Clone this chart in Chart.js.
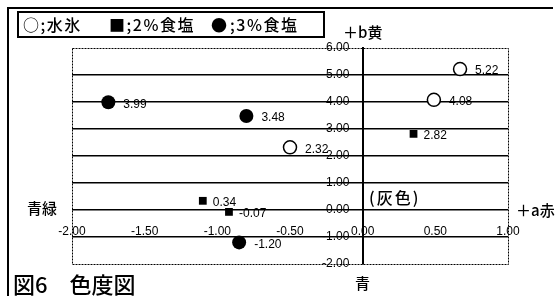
<!DOCTYPE html>
<html>
<head>
<meta charset="utf-8">
<script src="https://cdn.jsdelivr.net/npm/chart.js@4"></script>
<style>
  body { margin: 0; background: #fff; }
  #wrap { position: relative; width: 556px; height: 296px; font-family: "Noto Sans CJK JP", sans-serif; color: #000; }
  #wrap canvas { position: absolute; left: 0; top: 0; }
  .frameTop { position: absolute; left: 7px; top: 7px; width: 546px; height: 0; border-top: 2px solid #000; }
  .frameLeft { position: absolute; left: 7px; top: 7px; width: 0; height: 289px; border-left: 2px solid #000; }
  .legendBox { position: absolute; left: 17px; top: 11px; width: 304px; height: 23px; border: 2px solid #000; font-size: 16px; font-weight: 500; line-height: 23px; white-space: nowrap; letter-spacing: 1.5px; }
  .lbl { position: absolute; white-space: nowrap; line-height: 1; font-weight: 500; }
</style>
</head>
<body>
<div id="wrap">
  <canvas id="chromaChart" width="556" height="296"></canvas>
  <div class="frameTop"></div>
  <div class="frameLeft"></div>
  <div class="legendBox">
    <span style="position:absolute;left:4px">○;水氷</span>
    <span style="position:absolute;left:90px">■;2%食塩</span>
    <span style="position:absolute;left:192px">●</span>
    <span style="position:absolute;left:211px">;3%食塩</span>
  </div>
  <div class="lbl" style="left:343px;top:24px;font-size:15px">＋b黄</div>
  <div class="lbl" style="left:27px;top:200px;font-size:15px">青緑</div>
  <div class="lbl" style="left:516px;top:202px;font-size:15px">＋a赤</div>
  <div class="lbl" style="left:355px;top:275px;font-size:15px">青</div>
  <div class="lbl" style="left:369px;top:189px;font-size:16px;letter-spacing:2px">(灰色)</div>
  <div class="lbl" style="left:13px;top:272px;font-size:22px">図6　色度図</div>
</div>
<script>
// a*, b* values
const iceX = [0.67, 0.49, -0.50];
const iceY = [5.22, 4.08, 2.32];
const salt2X = [0.35, -1.10, -0.92];
const salt2Y = [2.82, 0.34, -0.07];
const salt3X = [-1.75, -0.80, -0.85];
const salt3Y = [3.99, 3.48, -1.20];

const xTicks = [-2, -1.5, -1, -0.5, 0, 0.5, 1];
const yTicks = [-2, -1, 0, 1, 2, 3, 4, 5, 6];

function pts(xs, ys){
    return xs.map((x, i) => ({x: x, y: ys[i]}));
}

// dashed outline of the plot area
const frame = {
    id: 'frame',
    beforeDatasetsDraw(chart){
        const a = chart.chartArea;
        const c = chart.ctx;
        c.save();
        c.strokeStyle = '#000';
        c.lineWidth = 1;
        c.setLineDash([2, 1]);
        c.strokeRect(a.left + 0.5, a.top + 0.5, a.right - a.left, a.bottom - a.top);
        c.restore();
    }
};

// value labels next to each point
const valueLabels = {
    id: 'valueLabels',
    afterDatasetsDraw(chart){
        const c = chart.ctx;
        c.save();
        c.fillStyle = '#000';
        c.font = '12px "Liberation Sans", Arial, sans-serif';
        c.textBaseline = 'middle';
        chart.data.datasets.forEach((ds, di) => {
            const meta = chart.getDatasetMeta(di);
            meta.data.forEach((el, i) => {
                const off = ds.pointStyle == 'rect' ? 10 : 15;
                c.fillText(ds.data[i].y.toFixed(2), el.x + off, el.y + 2);
            });
        });
        c.restore();
    }
};

const ctx = document.getElementById('chromaChart').getContext('2d');
const chart = new Chart(ctx, {
    type: 'scatter',
    data: {
        datasets: [
            {
                label: '水氷',
                data: pts(iceX, iceY),
                pointStyle: 'circle',
                pointRadius: 6.5,
                pointBackgroundColor: '#fff',
                pointBorderColor: '#000',
                pointBorderWidth: 1.5
            },
            {
                label: '2%食塩',
                data: pts(salt2X, salt2Y),
                pointStyle: 'rect',
                pointRadius: 5.5,
                pointBackgroundColor: '#000',
                pointBorderColor: '#000',
                pointBorderWidth: 0
            },
            {
                label: '3%食塩',
                data: pts(salt3X, salt3Y),
                pointStyle: 'circle',
                pointRadius: 7,
                pointBackgroundColor: '#000',
                pointBorderColor: '#000',
                pointBorderWidth: 0
            }
        ]
    },
    options: {
        responsive: false,
        animation: false,
        layout: { padding: { left: 72, right: 48, top: 48, bottom: 32 } },
        plugins: {
            legend: { display: false },
            tooltip: { enabled: false }
        },
        scales: {
            x: {
                type: 'linear',
                position: { y: -1 },
                min: -2,
                max: 1,
                afterBuildTicks: s => { s.ticks = xTicks.map(v => ({value: v})); },
                ticks: {
                    color: '#000',
                    font: { family: '"Liberation Sans", Arial, sans-serif', size: 12 },
                    padding: -13,
                    maxRotation: 0,
                    callback: v => Number(v).toFixed(2)
                },
                grid: { display: false, drawTicks: false, tickLength: 0 },
                border: { display: false }
            },
            y: {
                type: 'linear',
                position: { x: 0 },
                min: -2,
                max: 6,
                afterBuildTicks: s => { s.ticks = yTicks.map(v => ({value: v})); },
                ticks: {
                    color: '#000',
                    font: { family: '"Liberation Sans", Arial, sans-serif', size: 12 },
                    // labels sit a little left of the b* axis
                    callback: v => Number(v).toFixed(2) + '    '
                },
                grid: {
                    drawTicks: false,
                    tickLength: 0,
                    lineWidth: 1.5,
                    color: c => (c.tick && (c.tick.value == 6 || c.tick.value == -2)) ? 'rgba(0,0,0,0)' : '#000'
                },
                border: { display: true, color: '#000', width: 2 }
            }
        }
    },
    plugins: [frame, valueLabels]
});
</script>
</body>
</html>
